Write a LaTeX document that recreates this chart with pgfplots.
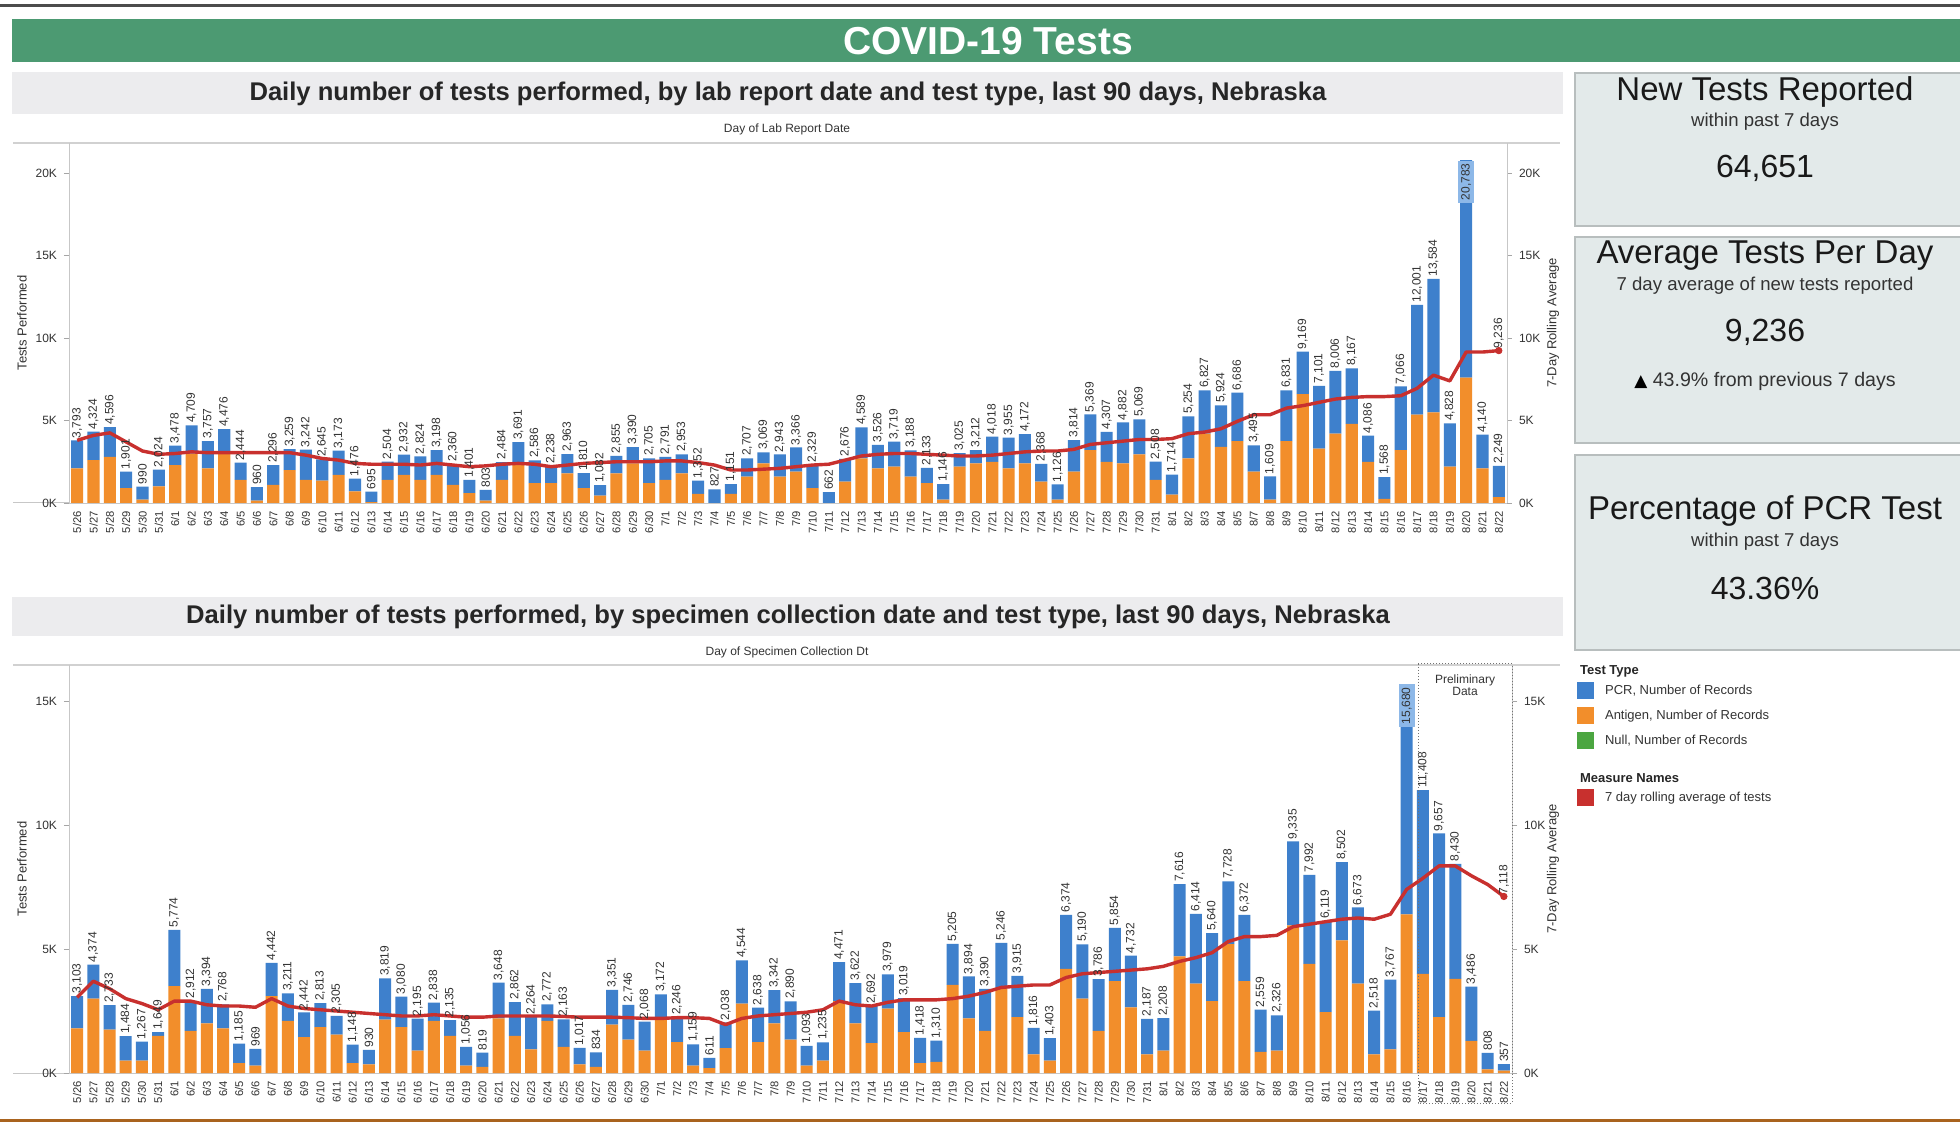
\documentclass[border=0pt]{standalone}
\usepackage{pgfplots}
\pgfplotsset{compat=1.18}
\usepackage{pgfplotstable}
\usepackage{fontspec}
\setmainfont{Liberation Sans}
\newfontfamily\dejavu{DejaVu Sans}
\definecolor{pcr}{HTML}{3E80CC}
\definecolor{pcrlt}{HTML}{8DB8E8}
\definecolor{ag}{HTML}{F28E2B}
\definecolor{nullc}{HTML}{4BA641}
\definecolor{avg}{HTML}{C8302E}
\definecolor{hdr}{HTML}{4C9A72}
\definecolor{subbar}{HTML}{ECECEE}
\definecolor{boxfill}{HTML}{E3EAEA}
\definecolor{boxline}{HTML}{B8BEBE}
\definecolor{txt}{HTML}{333333}

\pgfplotstableread{
i ag total avg
0 2100 3793 3800
1 2600 4324 4100
2 2800 4596 4250
3 900 1901 3700
4 200 990 3150
5 1000 2024 2950
6 2300 3478 3000
7 3000 4709 3100
8 2100 3757 3050
9 3000 4476 3050
10 1400 2444 3050
11 150 960 3050
12 1100 2296 3050
13 2000 3259 3050
14 1400 3242 2900
15 1350 2645 2700
16 1700 3173 2600
17 700 1476 2400
18 50 695 2350
19 1400 2504 2350
20 1700 2932 2350
21 1400 2824 2300
22 1700 3198 2400
23 1100 2360 2300
24 600 1401 2200
25 150 803 2250
26 1400 2484 2350
27 2300 3691 2400
28 1200 2586 2350
29 1200 2238 2200
30 1800 2963 2300
31 900 1810 2400
32 450 1082 2450
33 1800 2855 2500
34 2400 3390 2500
35 1200 2705 2500
36 1400 2791 2550
37 1800 2953 2550
38 550 1352 2450
39 0 827 2300
40 550 1151 2000
41 1600 2707 2000
42 2400 3069 2050
43 1600 2943 2100
44 1900 3366 2200
45 900 2329 2300
46 0 662 2350
47 1300 2676 2600
48 2700 4589 2850
49 2100 3526 2950
50 2200 3719 3000
51 1600 3188 3000
52 1200 2133 2950
53 200 1146 2900
54 2200 3025 2850
55 2400 3212 2850
56 2500 4018 2900
57 2100 3955 3000
58 2400 4172 3100
59 1300 2368 3150
60 200 1126 3150
61 1900 3814 3250
62 3200 5369 3550
63 2500 4307 3650
64 2400 4882 3750
65 2950 5069 3850
66 1400 2508 3850
67 500 1714 3900
68 2700 5254 4200
69 4200 6827 4300
70 3400 5924 4500
71 3750 6686 4950
72 1900 3495 5350
73 200 1609 5350
74 3750 6831 5750
75 6600 9169 5900
76 3300 7101 6100
77 4200 8006 6300
78 4800 8167 6400
79 2500 4086 6450
80 250 1568 6450
81 3200 7066 6500
82 5350 12001 6950
83 5500 13584 7750
84 2200 4828 7400
85 7600 20783 9150
86 2100 4140 9150
87 350 2249 9236
}\labdata

\pgfplotstableread{
i ag total avg
0 1800 3103 3050
1 3000 4374 3700
2 1750 2733 3400
3 500 1484 3000
4 500 1267 2800
5 1500 1649 2550
6 3500 5774 2900
7 1700 2912 2900
8 2000 3394 2750
9 1800 2768 2700
10 400 1185 2700
11 300 969 2650
12 3100 4442 3000
13 2100 3211 2700
14 1450 2442 2600
15 1850 2813 2550
16 1550 2305 2500
17 400 1148 2450
18 350 930 2400
19 2150 3819 2350
20 1850 3080 2300
21 900 2195 2300
22 2100 2838 2350
23 1500 2135 2300
24 300 1056 2250
25 250 819 2250
26 2200 3648 2300
27 1500 2862 2300
28 950 2264 2300
29 2100 2772 2300
30 1050 2163 2280
31 350 1017 2250
32 250 834 2250
33 1950 3351 2250
34 1350 2746 2230
35 900 2068 2200
36 2200 3172 2200
37 1250 2246 2230
38 300 1159 2230
39 200 611 2200
40 1000 2038 1950
41 2800 4544 2200
42 1250 2638 2300
43 2000 3342 2350
44 1350 2890 2400
45 300 1093 2450
46 500 1235 2550
47 2900 4471 2900
48 2000 3622 2750
49 1200 2692 2700
50 2600 3979 2850
51 1650 3019 2950
52 400 1418 2950
53 450 1310 2950
54 3550 5205 3000
55 2200 3894 3100
56 1700 3390 3250
57 3400 5246 3450
58 2250 3915 3500
59 750 1816 3550
60 500 1403 3550
61 4200 6374 3850
62 3000 5190 4000
63 1700 3786 4050
64 3700 5854 4100
65 2650 4732 4150
66 750 2187 4200
67 900 2208 4300
68 4700 7616 4500
69 3600 6414 4650
70 2900 5640 4850
71 5200 7728 5300
72 3700 6372 5500
73 850 2559 5500
74 900 2326 5550
75 5950 9335 5900
76 4400 7992 6000
77 2450 6119 6100
78 5350 8502 6200
79 3600 6673 6250
80 750 2518 6200
81 950 3767 6400
82 6400 15680 7400
83 4000 11408 7850
84 2250 9657 8350
85 3800 8430 8350
86 1300 3486 7950
87 150 808 7600
88 100 357 7118
}\specdata

\pgfplotsset{
  base/.style={
    scale only axis, anchor=south west,
    xmin=-0.5, ymin=0, clip=false,
    scaled y ticks=false, scaled x ticks=false,
    axis line style={draw=black!22,-},
    tick style={draw=black!35, line width=0.4pt},
    tick align=outside, major tick length=2.5pt,
    yticklabel style={font=\fontsize{6}{6.5}\selectfont, text=txt},
    /pgf/number format/assume math mode=true,
  },
  bars/.style={
    base, axis x line*=bottom, axis y line*=left,
    ybar stacked, bar width=0.74,
    xticklabel style={rotate=90, anchor=east, font=\fontsize{5.6}{6}\selectfont, text=txt, inner sep=1.5pt},
    xtick style={draw=none},
  },
  over/.style={
    base, axis x line=none, axis y line*=right, xtick=\empty,
    nodes near coords={\pgfmathprintnumber[fixed,precision=0,1000 sep={,}]{\pgfplotspointmeta}},
    nodes near coords style={rotate=90, anchor=west, font=\fontsize{6}{6.5}\selectfont, text=txt, inner sep=1pt},
  },
}

\begin{document}
\begin{tikzpicture}
\begin{scope}[x=0.5pt,y=-0.5pt]
\useasboundingbox (0,0) rectangle (1960,1122);
\fill[white] (0,0) rectangle (1960,1122);
\draw[black!70, line width=1.8pt] (0,5.5) -- (1960,5.5);
\fill[hdr] (12,19) rectangle (1960,62);
\node[text=white, font=\bfseries\fontsize{19.5}{22}\selectfont] at (988,41) {COVID-19 Tests};
% subtitle bars
\fill[subbar] (12,72) rectangle (1563,114);
\node[text=black!85, font=\bfseries\fontsize{12.8}{14}\selectfont] at (788,94) {Daily number of tests performed, by lab report date and test type, last 90 days, Nebraska};
\node[text=txt, font=\fontsize{6}{7}\selectfont] at (787,129) {Day of Lab Report Date};
\fill[subbar] (12,597) rectangle (1563,636);
\node[text=black!85, font=\bfseries\fontsize{12.8}{14}\selectfont] at (788,617) {Daily number of tests performed, by specimen collection date and test type, last 90 days, Nebraska};
\node[text=txt, font=\fontsize{6}{7}\selectfont] at (787,652) {Day of Specimen Collection Dt};
% frame lines
\draw[black!18, line width=0.6pt] (13,143) -- (1560,143);
\draw[black!22, line width=0.5pt] (13,503) -- (69,503);
\draw[black!18, line width=0.6pt] (13,665) -- (1560,665);
\draw[black!22, line width=0.5pt] (13,1073) -- (69,1073);
% axis titles
\node[rotate=90, text=txt, font=\fontsize{6.5}{7}\selectfont] at (22,323) {Tests Performed};
\node[rotate=90, text=txt, font=\fontsize{6.5}{7}\selectfont] at (1553,323) {7-Day Rolling Average};
\node[rotate=90, text=txt, font=\fontsize{6.5}{7}\selectfont] at (22,869) {Tests Performed};
\node[rotate=90, text=txt, font=\fontsize{6.5}{7}\selectfont] at (1553,869) {7-Day Rolling Average};
% right panels
\filldraw[fill=boxfill, draw=boxline, line width=0.6pt] (1575,73) rectangle (1962,226);
\filldraw[fill=boxfill, draw=boxline, line width=0.6pt] (1575,237) rectangle (1962,443);
\filldraw[fill=boxfill, draw=boxline, line width=0.6pt] (1575,455) rectangle (1962,650);
\node[text=black!90, font=\fontsize{16.5}{18}\selectfont] at (1765,92) {New Tests Reported};
\node[text=txt, font=\fontsize{9.3}{10}\selectfont] at (1765,122) {within past 7 days};
\node[text=black!90, font=\fontsize{16}{18}\selectfont] at (1765,168) {64,651};
\node[text=black!90, font=\fontsize{16.5}{18}\selectfont] at (1765,256) {Average Tests Per Day};
\node[text=txt, font=\fontsize{9.3}{10}\selectfont] at (1765,286) {7 day average of new tests reported};
\node[text=black!90, font=\fontsize{16}{18}\selectfont] at (1765,332) {9,236};
\node[text=txt, font=\fontsize{9.8}{11}\selectfont] at (1765,381) {{\dejavu\fontsize{8.5}{10}\selectfont\color{black}▲} 43.9\% from previous 7 days};
\node[text=black!90, font=\fontsize{16.5}{18}\selectfont] at (1765,511) {Percentage of PCR Test};
\node[text=txt, font=\fontsize{9.3}{10}\selectfont] at (1765,542) {within past 7 days};
\node[text=black!90, font=\fontsize{16}{18}\selectfont] at (1765,588) {43.36\%};
% legend
\node[anchor=west, text=black!85, font=\bfseries\fontsize{6.5}{7}\selectfont] at (1573,671) {Test Type};
\fill[pcr] (1577,682) rectangle (1594,699);
\node[anchor=west, text=txt, font=\fontsize{6.5}{7}\selectfont] at (1598,691) {PCR, Number of Records};
\fill[ag] (1577,707) rectangle (1594,724);
\node[anchor=west, text=txt, font=\fontsize{6.5}{7}\selectfont] at (1598,716) {Antigen, Number of Records};
\fill[nullc] (1577,732) rectangle (1594,749);
\node[anchor=west, text=txt, font=\fontsize{6.5}{7}\selectfont] at (1598,741) {Null, Number of Records};
\node[anchor=west, text=black!85, font=\bfseries\fontsize{6.5}{7}\selectfont] at (1573,778) {Measure Names};
\fill[avg] (1577,789) rectangle (1594,806);
\node[anchor=west, text=txt, font=\fontsize{6.5}{7}\selectfont] at (1598,798) {7 day rolling average of tests};
% bottom line
\draw[ag!70!black, line width=1.5pt] (0,1120) -- (1960,1120);
\end{scope}

% ===== top chart =====
\begin{axis}[bars, at={(34.5pt,-251.5pt)}, width=719pt, height=180pt, xmax=87.5, ymax=21820,
  ytick={0,5000,10000,15000,20000}, yticklabels={0K,5K,10K,15K,20K},
  xtick={0,...,87},
  xticklabels={5/26,5/27,5/28,5/29,5/30,5/31,6/1,6/2,6/3,6/4,6/5,6/6,6/7,6/8,6/9,6/10,6/11,6/12,6/13,6/14,6/15,6/16,6/17,6/18,6/19,6/20,6/21,6/22,6/23,6/24,6/25,6/26,6/27,6/28,6/29,6/30,7/1,7/2,7/3,7/4,7/5,7/6,7/7,7/8,7/9,7/10,7/11,7/12,7/13,7/14,7/15,7/16,7/17,7/18,7/19,7/20,7/21,7/22,7/23,7/24,7/25,7/26,7/27,7/28,7/29,7/30,7/31,8/1,8/2,8/3,8/4,8/5,8/7,8/8,8/9,8/10,8/11,8/12,8/13,8/14,8/15,8/16,8/17,8/18,8/19,8/20,8/21,8/22},
]
\addplot[fill=ag, draw=none] table[x=i, y=ag] {\labdata};
\addplot[fill=pcr, draw=none] table[x=i, y expr=\thisrow{total}-\thisrow{ag}] {\labdata};
\end{axis}
\begin{axis}[over, at={(34.5pt,-251.5pt)}, width=719pt, height=180pt, xmax=87.5, ymax=21820,
  ytick={0,5000,10000,15000,20000}, yticklabels={0K,5K,10K,15K,20K}]
\addplot[avg, line width=1.7pt, line join=round, mark=none, nodes near coords=\empty] table[x=i, y=avg] {\labdata};
\addplot[avg, only marks, mark=*, mark size=1.6pt, point meta=y] coordinates {(87,9236)};
\addplot[draw=none, mark=none, point meta=y, x filter/.code={\ifnum\coordindex=85 \def\pgfmathresult{}\fi}] table[x=i, y=total] {\labdata};
\addplot[draw=none, mark=none, point meta=y, nodes near coords style={anchor=east, fill=pcrlt, inner sep=1.5pt}] coordinates {(85,20783)};
\end{axis}

% ===== bottom chart =====
\begin{axis}[bars, at={(34.5pt,-536.5pt)}, width=721.5pt, height=204pt, xmax=88.5, ymax=16450,
  ytick={0,5000,10000,15000}, yticklabels={0K,5K,10K,15K},
  xtick={0,...,88},
  xticklabels={5/26,5/27,5/28,5/29,5/30,5/31,6/1,6/2,6/3,6/4,6/5,6/6,6/7,6/8,6/9,6/10,6/11,6/12,6/13,6/14,6/15,6/16,6/17,6/18,6/19,6/20,6/21,6/22,6/23,6/24,6/25,6/26,6/27,6/28,6/29,6/30,7/1,7/2,7/3,7/4,7/5,7/6,7/7,7/8,7/9,7/10,7/11,7/12,7/13,7/14,7/15,7/16,7/17,7/18,7/19,7/20,7/21,7/22,7/23,7/24,7/25,7/26,7/27,7/28,7/29,7/30,7/31,8/1,8/2,8/3,8/4,8/5,8/6,8/7,8/8,8/9,8/10,8/11,8/12,8/13,8/14,8/15,8/16,8/17,8/18,8/19,8/20,8/21,8/22},
]
\addplot[fill=ag, draw=none] table[x=i, y=ag] {\specdata};
\addplot[fill=pcr, draw=none] table[x=i, y expr=\thisrow{total}-\thisrow{ag}] {\specdata};
\end{axis}
\begin{axis}[over, at={(34.5pt,-536.5pt)}, width=721.5pt, height=204pt, xmax=88.5, ymax=16450,
  ytick={0,5000,10000,15000}, yticklabels={0K,5K,10K,15K}]
\addplot[avg, line width=1.7pt, line join=round, mark=none, nodes near coords=\empty] table[x=i, y=avg] {\specdata};
\addplot[avg, only marks, mark=*, mark size=1.6pt, point meta=y] coordinates {(88,7118)};
\addplot[draw=none, mark=none, point meta=y, x filter/.code={\ifnum\coordindex=82 \def\pgfmathresult{}\fi}] table[x=i, y=total] {\specdata};
\addplot[draw=none, mark=none, point meta=y, nodes near coords style={anchor=east, fill=pcrlt, inner sep=1.5pt}] coordinates {(82,15680)};
\end{axis}

\begin{scope}[x=0.5pt,y=-0.5pt]
\draw[black!55, densely dotted, line width=0.5pt] (1418,664) rectangle (1512,1103);
\node[text=txt, font=\fontsize{6}{7}\selectfont, align=center] at (1465,685) {Preliminary\\[-1pt]Data};
\end{scope}
\end{tikzpicture}
\end{document}
